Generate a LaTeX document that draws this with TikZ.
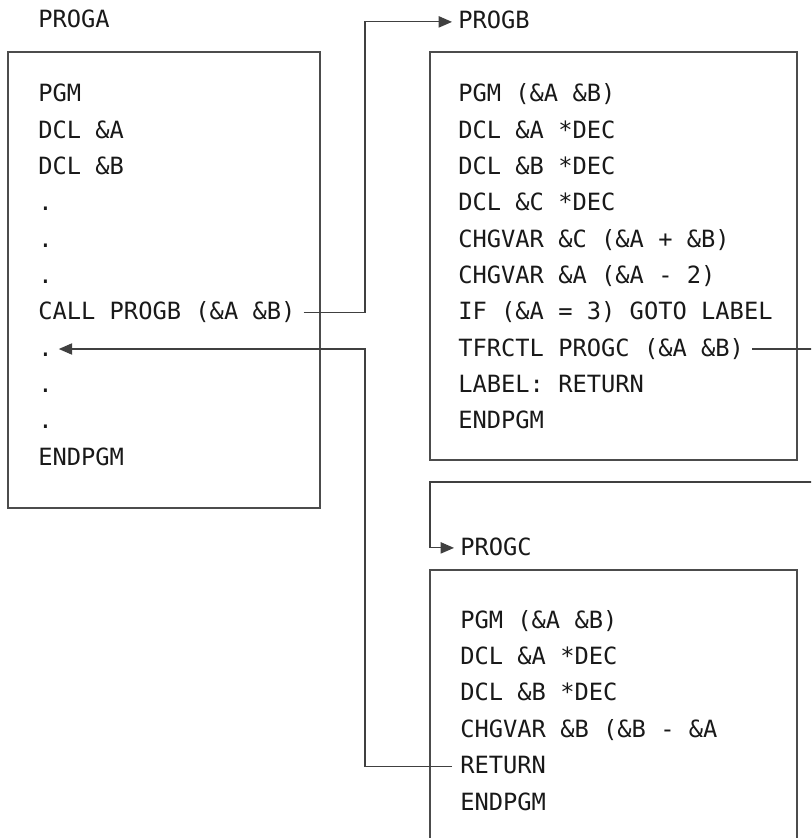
\documentclass[tikz,border=0pt]{standalone}
\usepackage{fontspec}
\newfontfamily\codigo{DejaVu Sans Mono}
\usetikzlibrary{arrows.meta}
\tikzset{
  texto/.style={anchor=base west, inner sep=0pt, font=\fontsize{17.8}{20}\selectfont\codigo,
    text height=13.35pt, text depth=2.7pt, text=black!90},
  caja/.style={draw=black!70, line width=0.8pt},
  linea/.style={draw=black!75, line width=0.8pt, shorten <=6pt},
  flecha/.style={linea, -{Triangle[length=10pt,width=8.5pt]}, shorten >=4.5pt}
}
\begin{document}
\begin{tikzpicture}[x=0.75pt,y=-0.75pt]
    \clip (0,0) rectangle (811,838);

    % Programa A
    \node[texto] (proga) at (38,28) {PROGA};
    \draw[caja] (8,52) rectangle (320,508);
    \node[texto] (a1) at (38,102) {PGM};
    \node[texto] (a2) at (38,138.3) {DCL \&A};
    \node[texto] (a3) at (38,174.6) {DCL \&B};
    \node[texto] (a4) at (38,210.9) {.};
    \node[texto] (a5) at (38,247.2) {.};
    \node[texto] (a6) at (38,283.5) {.};
    \node[texto] (a7) at (38,319.8) {CALL PROGB (\&A \&B)};
    \node[texto] (a8) at (38,356.1) {.};
    \node[texto] (a9) at (38,392.4) {.};
    \node[texto] (a10) at (38,428.7) {.};
    \node[texto] (a11) at (38,465) {ENDPGM};

    % Programa B
    \node[texto] (progb) at (458,29) {PROGB};
    \draw[caja] (430,52) rectangle (797,460);
    \node[texto] (b1) at (458,102) {PGM (\&A \&B)};
    \node[texto] (b2) at (458,138.3) {DCL \&A *DEC};
    \node[texto] (b3) at (458,174.6) {DCL \&B *DEC};
    \node[texto] (b4) at (458,210.9) {DCL \&C *DEC};
    \node[texto] (b5) at (458,247.2) {CHGVAR \&C (\&A + \&B)};
    \node[texto] (b6) at (458,283.5) {CHGVAR \&A (\&A - 2)};
    \node[texto] (b7) at (458,319.8) {IF (\&A = 3) GOTO LABEL};
    \node[texto] (b8) at (458,356.1) {TFRCTL PROGC (\&A \&B)};
    \node[texto] (b9) at (458,392.4) {LABEL: RETURN};
    \node[texto] (b10) at (458,428.7) {ENDPGM};

    % Programa C (abierto por abajo)
    \node[texto] (progc) at (460,555) {PROGC};
    \draw[caja] (430,850) -- (430,570) -- (797,570) -- (797,850);
    \node[texto] (c1) at (460,628) {PGM (\&A \&B)};
    \node[texto] (c2) at (460,664.4) {DCL \&A *DEC};
    \node[texto] (c3) at (460,700.8) {DCL \&B *DEC};
    \node[texto] (c4) at (460,737.2) {CHGVAR \&B (\&B - \&A};
    \node[texto] (c5) at (460,773.6) {RETURN};
    \node[texto] (c6) at (460,810) {ENDPGM};

    % Llamadas y retorno
    \coordinate (codo) at (365,0);
    \draw[flecha] (a7.east) -- (a7.east -| codo) |- (progb.west);
    \draw[flecha] (c5.west) -- (c5.west -| codo) |- (a8.east);

    % Transferencia de control (sale por la derecha)
    \coordinate (vuelta) at (830,482);
    \coordinate (bajada) at (430,482);
    \draw[flecha] (b8.east) -| (vuelta) -- (bajada) |- (progc.west);
\end{tikzpicture}
\end{document}
